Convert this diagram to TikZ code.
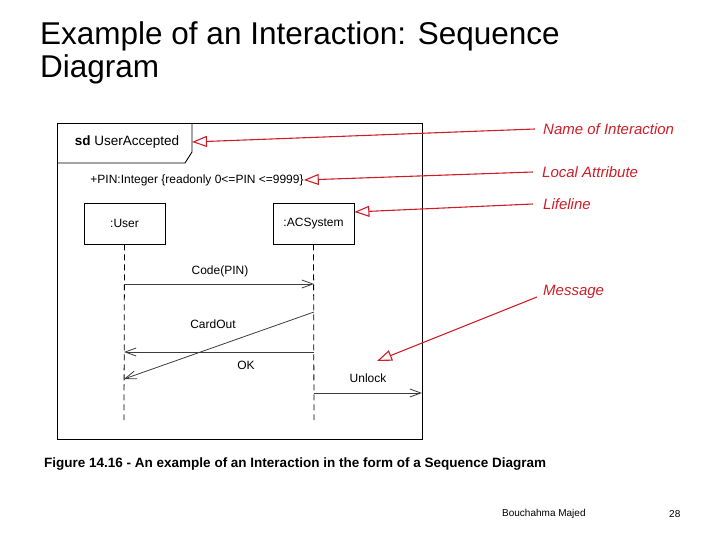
\documentclass[tikz,border=0pt]{standalone}
\usepackage{fontspec}
\setmainfont{Liberation Sans}
\usetikzlibrary{arrows.meta}
\definecolor{annred}{RGB}{205,30,40}
\definecolor{msggray}{RGB}{60,60,60}
\tikzset{
  lifebox/.style={draw, line width=0.8pt, minimum width=81pt, minimum height=41pt, inner sep=0pt, font=\fontsize{12}{14}\selectfont},
  lifeline/.style={line width=0.8pt, dash pattern=on 6pt off 4pt},
  msg/.style={line width=0.8pt, draw=msggray, -{Straight Barb[length=11pt,width=8pt,line width=0.8pt]}},
  msglabel/.style={font=\fontsize{12}{14}\selectfont, inner sep=0pt},
  annot/.style={draw=annred, line width=1.1pt, -{Triangle[open,length=15pt,width=11pt,line width=1.1pt]}},
  annlabel/.style={font=\fontsize{15}{17}\selectfont\itshape, text=annred, anchor=west, inner sep=0pt}
}
\begin{document}
\begin{tikzpicture}[x=1pt,y=-1pt]
\useasboundingbox (0,0) rectangle (720,540);
% title
\node[anchor=base west, inner sep=0pt, font=\fontsize{31.5}{36}\selectfont, text=black] (t1) at (40,45) {Example of an Interaction: Sequence};
\node[anchor=base west, inner sep=0pt, font=\fontsize{31.5}{36}\selectfont, text=black] (t2) at (40,78) {Diagram};
% frame
\draw[line width=0.9pt] (57,123) rectangle (422,439);
\draw[line width=0.9pt] (57,163) -- (185,163) -- (192,152) -- (192,123);
\coordinate (tabR) at (192,142);
\node[font=\fontsize{13.5}{15}\selectfont, inner sep=0pt] (sd) at (127,142) {\textbf{sd} UserAccepted};
\node[font=\fontsize{12}{14}\selectfont, inner sep=0pt] (attr) at (197,180) {+PIN:Integer \{readonly 0<=PIN <=9999\}};
% lifelines
\node[lifebox] (user) at (124.5,223.5) {:User};
\node[lifebox] (acs) at (313.5,223.5) {:ACSystem};
\coordinate (uend) at (124,420);
\coordinate (aend) at (314,420);
\draw[lifeline] (user.south) -- (uend);
\draw[lifeline] (acs.south) -- (aend);
% messages
\coordinate (u1) at (124,284); \coordinate (a1) at (314,284);
\coordinate (a2) at (314,312); \coordinate (u2) at (124,379);
\coordinate (a3) at (314,352); \coordinate (u3) at (124,352);
\coordinate (a4) at (314,393); \coordinate (r4) at (422,393);
\draw[msg] (u1) -- (a1);
\draw[msg] (a2) -- (u2);
\draw[msg] (a3) -- (u3);
\draw[msg] (a4) -- (r4);
\node[msglabel] (l1) at (220,271) {Code(PIN)};
\node[msglabel] (l2) at (213,324) {CardOut};
\node[msglabel] (l3) at (246,365) {OK};
\node[msglabel] (l4) at (368,378) {Unlock};
% annotations
\node[annlabel] (n1) at (543,129) {Name of Interaction};
\node[annlabel] (n2) at (542,172) {Local Attribute};
\node[annlabel] (n3) at (543,204) {Lifeline};
\node[annlabel] (n4) at (543,292) {Message};
\coordinate (m4) at (377,361);
\draw[annot] (n1.west) ++(-8,0) -- (tabR);
\draw[annot] (n2.west) ++(-9,0) -- (attr.east);
\draw[annot] (n3.west) ++(-10,0) -- (acs.east|-0,212);
\draw[annot] (537,297) -- (m4);
% caption
\node[anchor=west, inner sep=0pt, font=\fontsize{13.5}{15}\selectfont\bfseries] (cap) at (44,464) {Figure 14.16 - An example of an Interaction in the form of a Sequence Diagram};
% footer
\node[anchor=west, inner sep=0pt, font=\fontsize{10}{11}\selectfont] (ft) at (502,514) {Bouchahma Majed};
\node[anchor=west, inner sep=0pt, font=\fontsize{10}{11}\selectfont] (pg) at (669,514) {28};
\end{tikzpicture}
\end{document}
